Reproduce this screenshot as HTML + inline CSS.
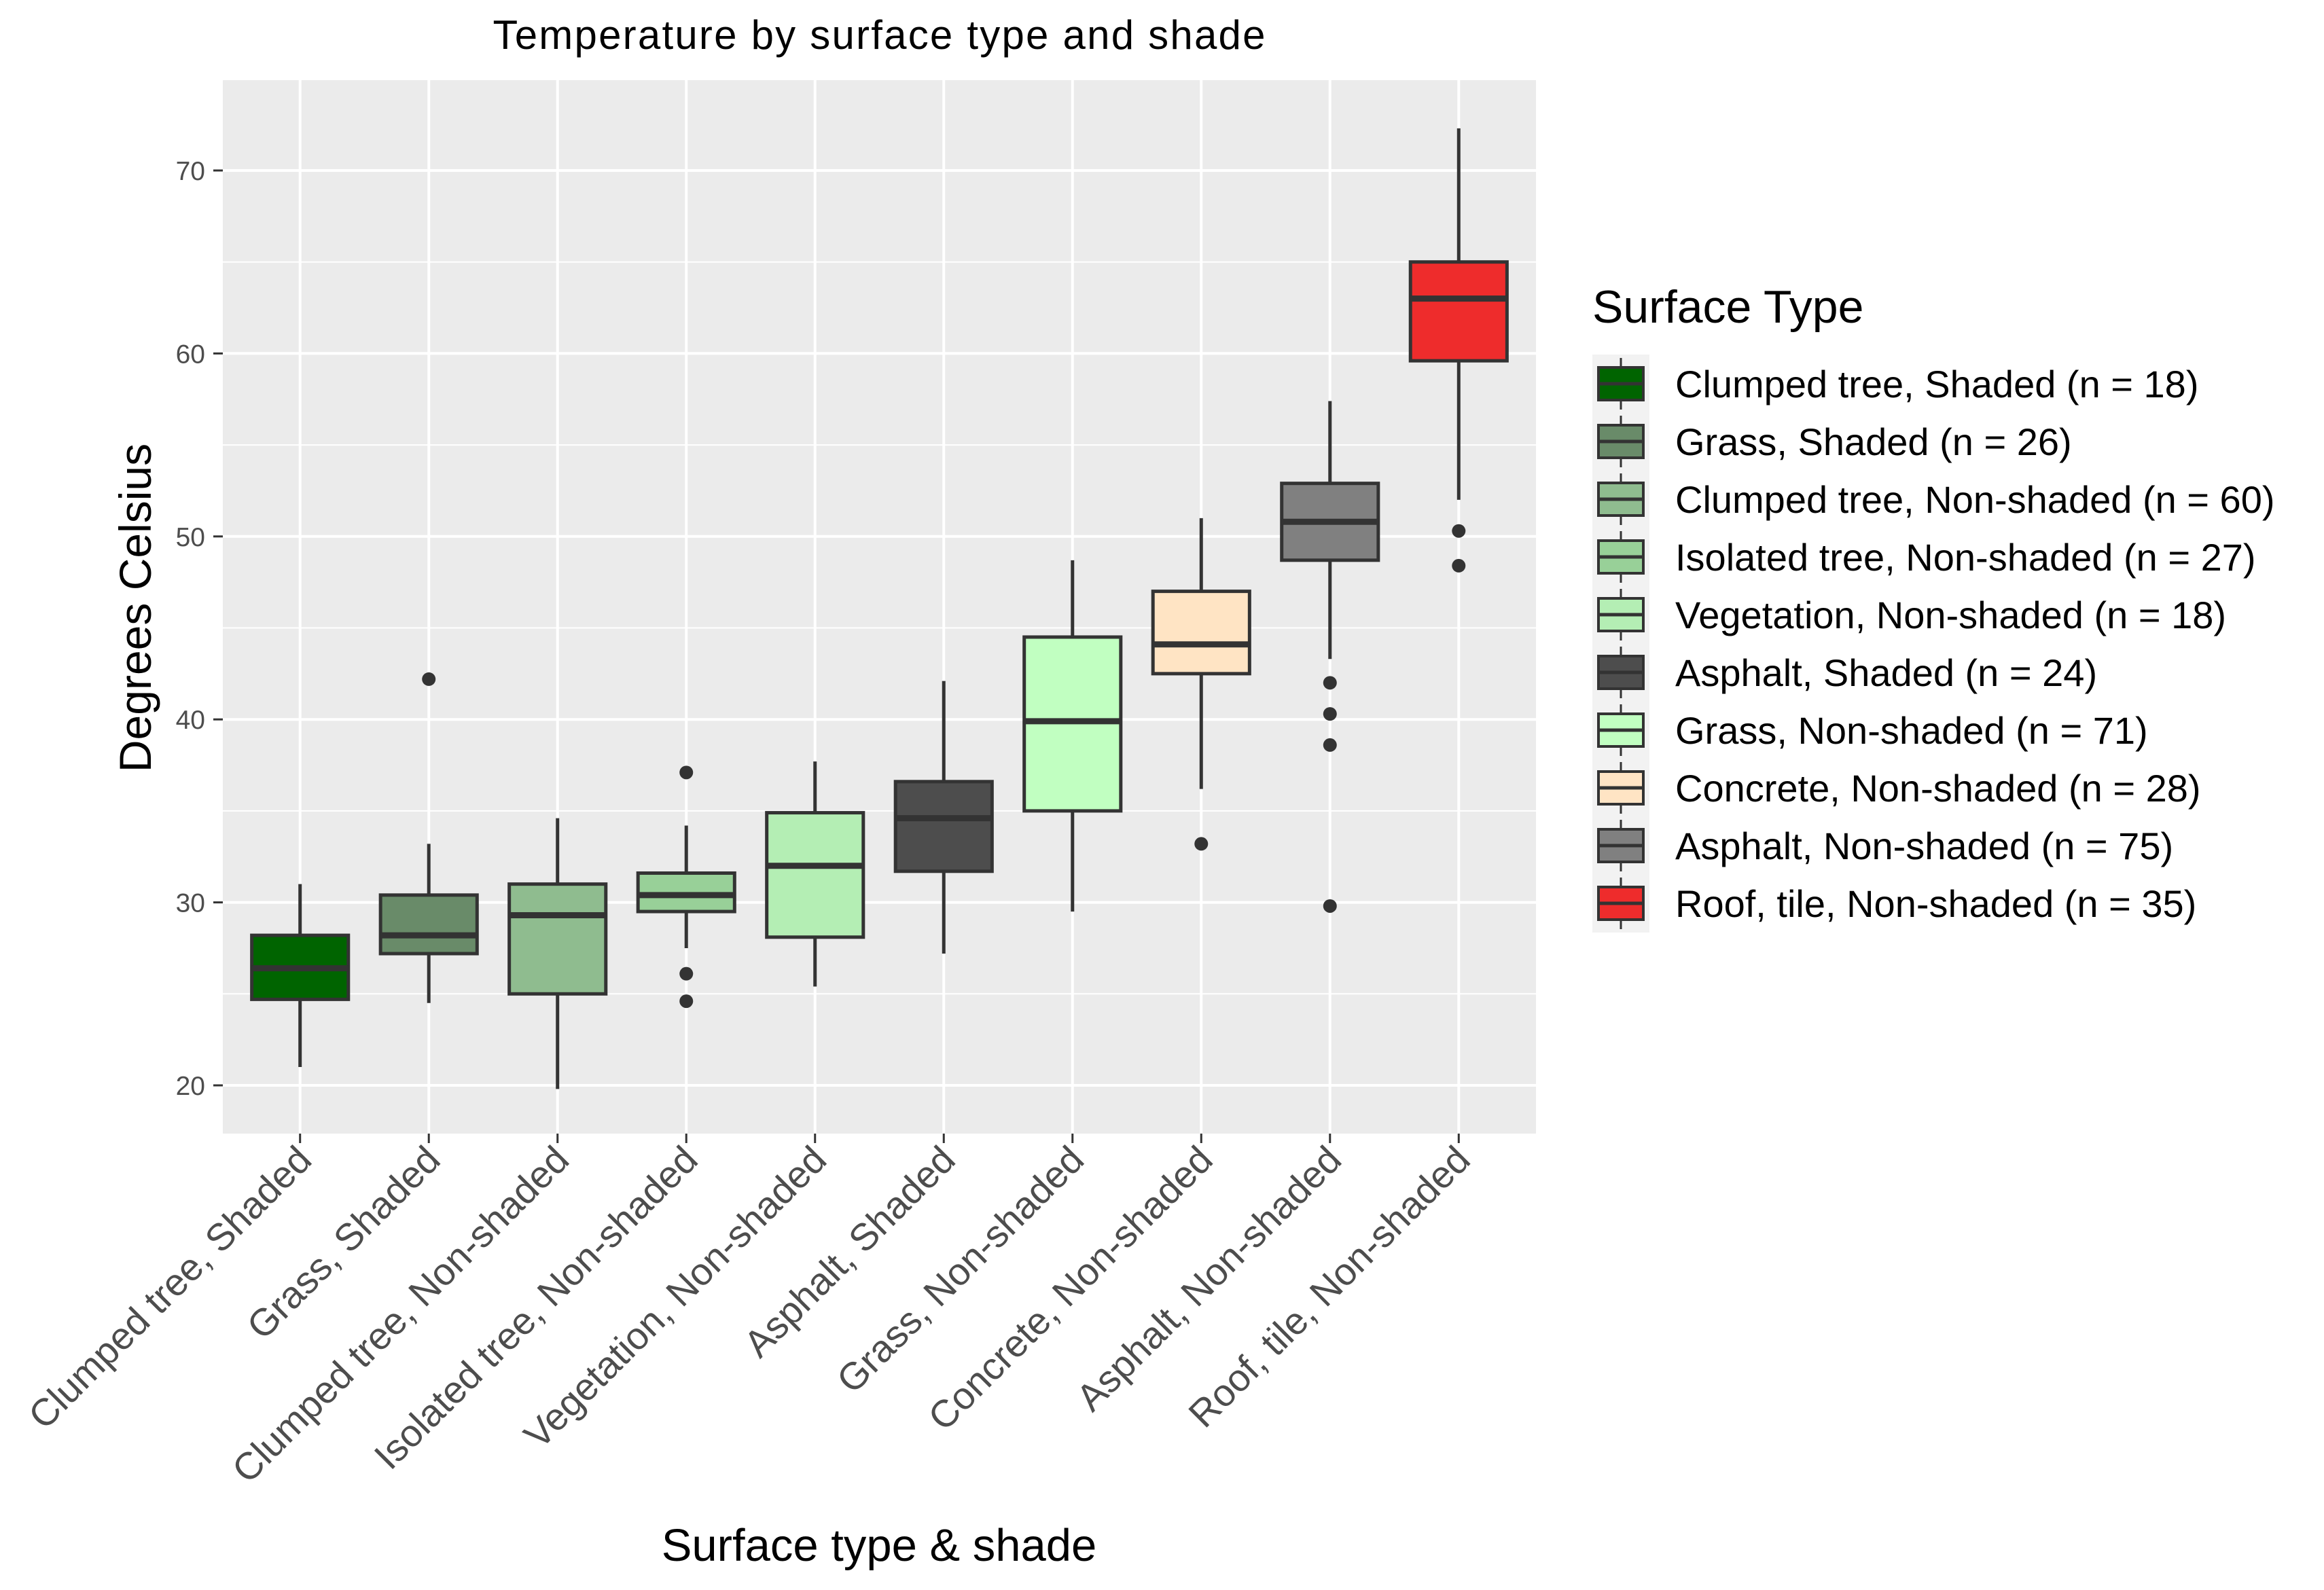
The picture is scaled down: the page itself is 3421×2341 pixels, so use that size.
<!DOCTYPE html>
<html><head><meta charset="utf-8"><style>
body{margin:0;background:#fff}
svg{display:block;font-family:"Liberation Sans",Arial,sans-serif}
</style></head><body>
<svg id="c" width="3421" height="2341" viewBox="0 0 3421 2341">
<text x="1294" y="72" font-size="60" text-anchor="middle" fill="#000" textLength="1137">Temperature by surface type and shade</text>
<rect x="328" y="118" width="1933" height="1551" fill="#ebebeb"/>
<g id="grid"></g><g id="boxes"></g><g id="axes"></g>
<text transform="translate(222,895) rotate(-90)" font-size="66" text-anchor="middle" fill="#000">Degrees Celsius</text>
<text x="1294" y="2298" font-size="67" text-anchor="middle" fill="#000">Surface type &amp; shade</text>
<text x="2344" y="475" font-size="68" fill="#000">Surface Type</text>
<g id="legend"></g>
</svg>
<script>
const categories=["Clumped tree, Shaded","Grass, Shaded","Clumped tree, Non-shaded","Isolated tree, Non-shaded","Vegetation, Non-shaded","Asphalt, Shaded","Grass, Non-shaded","Concrete, Non-shaded","Asphalt, Non-shaded","Roof, tile, Non-shaded"];
const counts=[18,26,60,27,18,24,71,28,75,35];
const lowWhisker=[21,24.5,19.8,27.5,25.4,27.2,29.5,36.2,43.3,52];
const q1=[24.7,27.2,25,29.5,28.1,31.7,35,42.5,48.7,59.6];
const medians=[26.4,28.2,29.3,30.4,32,34.6,39.9,44.1,50.8,63];
const q3=[28.2,30.4,31,31.6,34.9,36.6,44.5,47,52.9,65];
const highWhisker=[31,33.2,34.6,34.2,37.7,42.1,48.7,51,57.4,72.3];
const outliers=[[],[42.2],[],[37.1,26.1,24.6],[],[],[],[33.2],[42,40.3,38.6,29.8],[50.3,48.4]];
const fills=["#006400","#698b69","#8fbc8f","#98d098","#b4eeb4","#4d4d4d","#c1ffc1","#ffe4c4","#808080","#ee2c2c"];
const yTicks=[20,30,40,50,60,70];
const NS="http://www.w3.org/2000/svg";
const X0=328,X1=2261,Y0=118,Y1=1669;
const step=(X1-X0)/(categories.length+0.2);
function xs(i){return X0+step*(0.6+i);}
function ys(v){return 1598-(v-20)*26.94;}
function mk(p,t,a){const e=document.createElementNS(NS,t);for(const k in a)e.setAttribute(k,a[k]);p.appendChild(e);return e;}
const grid=document.getElementById('grid'),boxes=document.getElementById('boxes'),axes=document.getElementById('axes'),leg=document.getElementById('legend');
for(let v=15;v<=75;v+=5){const y=ys(v);if(y<Y0||y>Y1)continue;const major=v%10===0;
const l=mk(grid,'line',{x1:X0,x2:X1,y1:y,y2:y,stroke:'#fff','stroke-width':major?4:2});

}
categories.forEach((c,i)=>{const l=mk(grid,'line',{x1:xs(i),x2:xs(i),y1:Y0,y2:Y1,stroke:'#fff','stroke-width':4});

});
yTicks.forEach(v=>{const y=ys(v);
const t=mk(axes,'line',{x1:314,x2:328,y1:y,y2:y,stroke:'#333','stroke-width':3});


const tx=mk(axes,'text',{x:302,y:y+14,'font-size':39,'text-anchor':'end',fill:'#4d4d4d'});tx.textContent=v;

});
const bw=step*0.75;
categories.forEach((c,i)=>{const x=xs(i);
const g=mk(boxes,'g',{});


mk(g,'line',{x1:x,x2:x,y1:ys(highWhisker[i]),y2:ys(q3[i]),stroke:'#333','stroke-width':5});
mk(g,'line',{x1:x,x2:x,y1:ys(q1[i]),y2:ys(lowWhisker[i]),stroke:'#333','stroke-width':5});
mk(g,'rect',{x:x-bw/2,y:ys(q3[i]),width:bw,height:ys(q1[i])-ys(q3[i]),fill:fills[i],stroke:'#333','stroke-width':5});
mk(g,'line',{x1:x-bw/2,x2:x+bw/2,y1:ys(medians[i]),y2:ys(medians[i]),stroke:'#333','stroke-width':9});
outliers[i].forEach(o=>{const d=mk(g,'circle',{cx:x,cy:ys(o),r:10,fill:'#333'});

});
const t=mk(axes,'line',{x1:x,x2:x,y1:Y1,y2:Y1+14,stroke:'#333','stroke-width':3});


const ax=x+20,ay=Y1+42;
const tx=mk(axes,'text',{x:ax,y:ay,'font-size':56,'text-anchor':'end',fill:'#4d4d4d',transform:`rotate(-45 ${ax} ${ay})`});tx.textContent=c;


const ly=565+i*85;
const lg=mk(leg,'g',{});


mk(lg,'rect',{x:2344,y:ly-43,width:84,height:86,fill:'#f2f2f2'});
mk(lg,'line',{x1:2386,x2:2386,y1:ly-38,y2:ly+38,stroke:'#333','stroke-width':3});
mk(lg,'rect',{x:2353,y:ly-24,width:66,height:48,fill:fills[i],stroke:'#333','stroke-width':4});
mk(lg,'line',{x1:2353,x2:2419,y1:ly,y2:ly,stroke:'#333','stroke-width':5});
const lt=mk(lg,'text',{x:2466,y:ly+20,'font-size':56,fill:'#000'});lt.textContent=c+' (n = '+counts[i]+')';
});
</script>
</body></html>
